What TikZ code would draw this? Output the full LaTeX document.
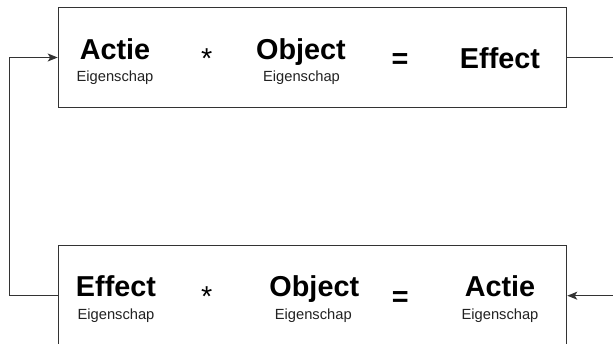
\documentclass[tikz,border=0pt]{standalone}
\usepackage{fontspec}
\setmainfont{Liberation Sans}
\usetikzlibrary{arrows.meta}
\definecolor{linegray}{HTML}{333333}
\definecolor{subgray}{HTML}{222222}
\tikzset{
  box/.style={draw=linegray, line width=1.2pt, fill=white, minimum width=508.4pt, minimum height=100.4pt, inner sep=0pt},
  conn/.style={draw=linegray, line width=1pt},
  arr/.style={conn, -{Stealth[length=10pt, width=8pt, inset=2.5pt]}},
  title/.style={font=\fontsize{28.8pt}{30pt}\selectfont\bfseries, inner sep=0pt, anchor=base},
  opsym/.style={font=\fontsize{28.8pt}{30pt}\selectfont, inner sep=0pt, anchor=base},
  sub/.style={font=\fontsize{14.7pt}{16pt}\selectfont, text=subgray, inner sep=0pt, anchor=base},
}
\begin{document}
\begin{tikzpicture}[x=1pt, y=-1pt]
\useasboundingbox (0,0) rectangle (613,344);
\node[box] (top) at (312.5,57.5) {};
\node[box] (bot) at (312.5,295.7) {};
% top row
\node[title] (t1) at (115,60) {Actie};
\node[sub] (t1s) at (115,81.7) {Eigenschap};
\node[opsym] (t2) at (206.7,68.3) {*};
\node[title] (t3) at (301,60) {Object};
\node[sub] (t3s) at (301.5,81.3) {Eigenschap};
\node[title] (t4) at (400,68.3) {=};
\node[title] (t5) at (500,68.3) {Effect};
% bottom row
\node[title] (b1) at (116,296.7) {Effect};
\node[sub] (b1s) at (116,319.2) {Eigenschap};
\node[opsym] (b2) at (206.7,307) {*};
\node[title] (b3) at (314.3,296.7) {Object};
\node[sub] (b3s) at (313.3,319.3) {Eigenschap};
\node[title] (b4) at (400.3,306.7) {=};
\node[title] (b5) at (500,296.3) {Actie};
\node[sub] (b5s) at (500,319.8) {Eigenschap};
% connectors
\coordinate (ltop) at (9.3,57.5);
\coordinate (lbot) at (9.3,295.7);
\coordinate (rtop) at (613,57.5);
\coordinate (rbot) at (613,295.7);
\draw[arr] (bot.west) -- (lbot) -- (ltop) -- (top.west);
\draw[conn] (top.east) -- (rtop);
\draw[arr] (rbot) -- (bot.east);
\end{tikzpicture}
\end{document}
